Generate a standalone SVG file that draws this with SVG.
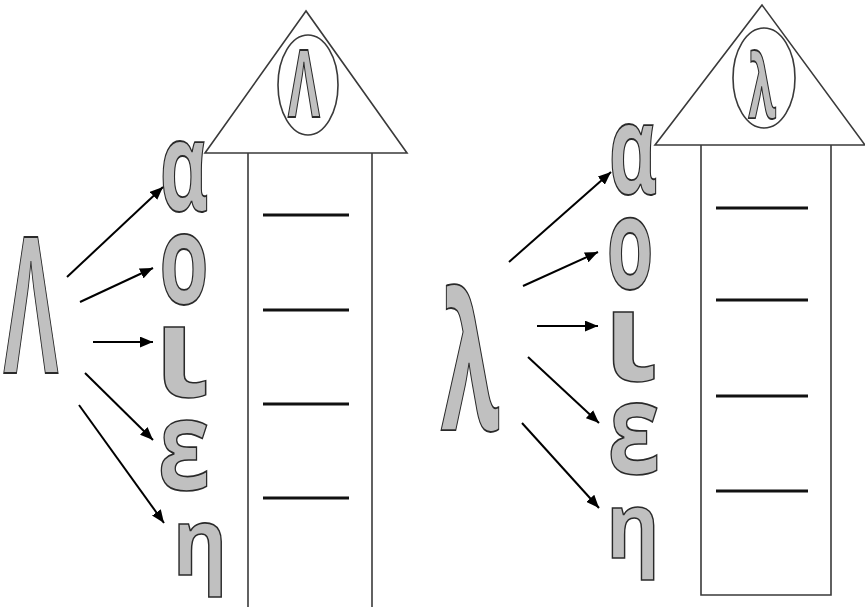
<svg xmlns="http://www.w3.org/2000/svg" width="865" height="607" viewBox="0 0 865 607">
<style>
.house{fill:none;stroke:#3a3a3a;stroke-width:1.6}
.blank{stroke:#111;stroke-width:3;fill:none}
.g{fill:#c0c0c0;stroke:#2a2a2a;stroke-width:1.5;vector-effect:non-scaling-stroke;font-family:"Open Sans","Noto Sans",sans-serif;font-weight:700;text-anchor:middle}
.c{stroke:#000;stroke-width:2;fill:none;marker-end:url(#ah)}
</style>
<defs>
<marker id="ah" viewBox="0 0 12 10" refX="12" refY="5" markerWidth="13" markerHeight="11" markerUnits="userSpaceOnUse" orient="auto">
<path d="M0,0 L12,5 L0,10 Z" fill="#000"/>
</marker>
</defs>
<rect width="865" height="607" fill="#fff"/>

<g id="house-left">
<polygon class="house" points="306,11 205,153 407,153"/>
<ellipse class="house" cx="308" cy="85" rx="30" ry="50"/>
<line class="house" x1="248" y1="153" x2="248" y2="607"/>
<line class="house" x1="372" y1="153" x2="372" y2="607"/>
<line class="blank" x1="263" y1="215" x2="349" y2="215"/>
<line class="blank" x1="263" y1="310" x2="349" y2="310"/>
<line class="blank" x1="263" y1="404" x2="349" y2="404"/>
<line class="blank" x1="263" y1="498" x2="349" y2="498"/>
<text class="g" font-size="94" transform="translate(304,117) scale(0.52,1)">Λ</text>
</g>

<g id="house-right">
<polygon class="house" points="762,5 655,145 865,145"/>
<ellipse class="house" cx="764" cy="78" rx="31" ry="50"/>
<polyline class="house" points="701,145 701,595 831,595 831,145"/>
<line class="blank" x1="716" y1="208" x2="808" y2="208"/>
<line class="blank" x1="716" y1="300" x2="808" y2="300"/>
<line class="blank" x1="716" y1="396" x2="808" y2="396"/>
<line class="blank" x1="716" y1="491" x2="808" y2="491"/>
<text class="g" font-size="90" transform="translate(762,118) scale(0.5,1)">λ</text>
</g>

<g id="source-left"><text class="g" font-size="190" transform="translate(31,373) scale(0.44,1)">Λ</text></g>
<g id="left-alpha"><text class="g" font-size="125" transform="translate(184,211) scale(0.6,1)">α</text></g>
<g id="left-omicron"><text class="g" font-size="125" transform="translate(184,304) scale(0.64,1)">ο</text></g>
<g id="left-iota"><text class="g" font-size="128" transform="translate(181,397) scale(1.05,1)">ι</text></g>
<g id="left-epsilon"><text class="g" font-size="126" transform="translate(184,490) scale(0.75,1)">ε</text></g>
<g id="left-eta"><text class="g" font-size="93" transform="translate(200,575) scale(0.9,1)">η</text></g>

<g id="source-right"><text class="g" font-size="190" transform="translate(470,430) scale(0.5,1)">λ</text></g>
<g id="right-alpha"><text class="g" font-size="125" transform="translate(633,194) scale(0.6,1)">α</text></g>
<g id="right-omicron"><text class="g" font-size="127" transform="translate(630,289) scale(0.6,1)">ο</text></g>
<g id="right-iota"><text class="g" font-size="125" transform="translate(630,381) scale(1.05,1)">ι</text></g>
<g id="right-epsilon"><text class="g" font-size="127" transform="translate(634,474) scale(0.75,1)">ε</text></g>
<g id="right-eta"><text class="g" font-size="91" transform="translate(633,558) scale(0.9,1)">η</text></g>

<g id="connectors">
<line class="c" x1="67" y1="277" x2="163" y2="187"/>
<line class="c" x1="80" y1="302" x2="153" y2="268"/>
<line class="c" x1="93" y1="342" x2="153" y2="342"/>
<line class="c" x1="85" y1="373" x2="153" y2="440"/>
<line class="c" x1="79" y1="405" x2="164" y2="523"/>
<line class="c" x1="509" y1="262" x2="611" y2="172"/>
<line class="c" x1="523" y1="286" x2="598" y2="252"/>
<line class="c" x1="537" y1="326" x2="598" y2="326"/>
<line class="c" x1="528" y1="357" x2="599" y2="423"/>
<line class="c" x1="522" y1="423" x2="599" y2="508"/>
</g>
</svg>
